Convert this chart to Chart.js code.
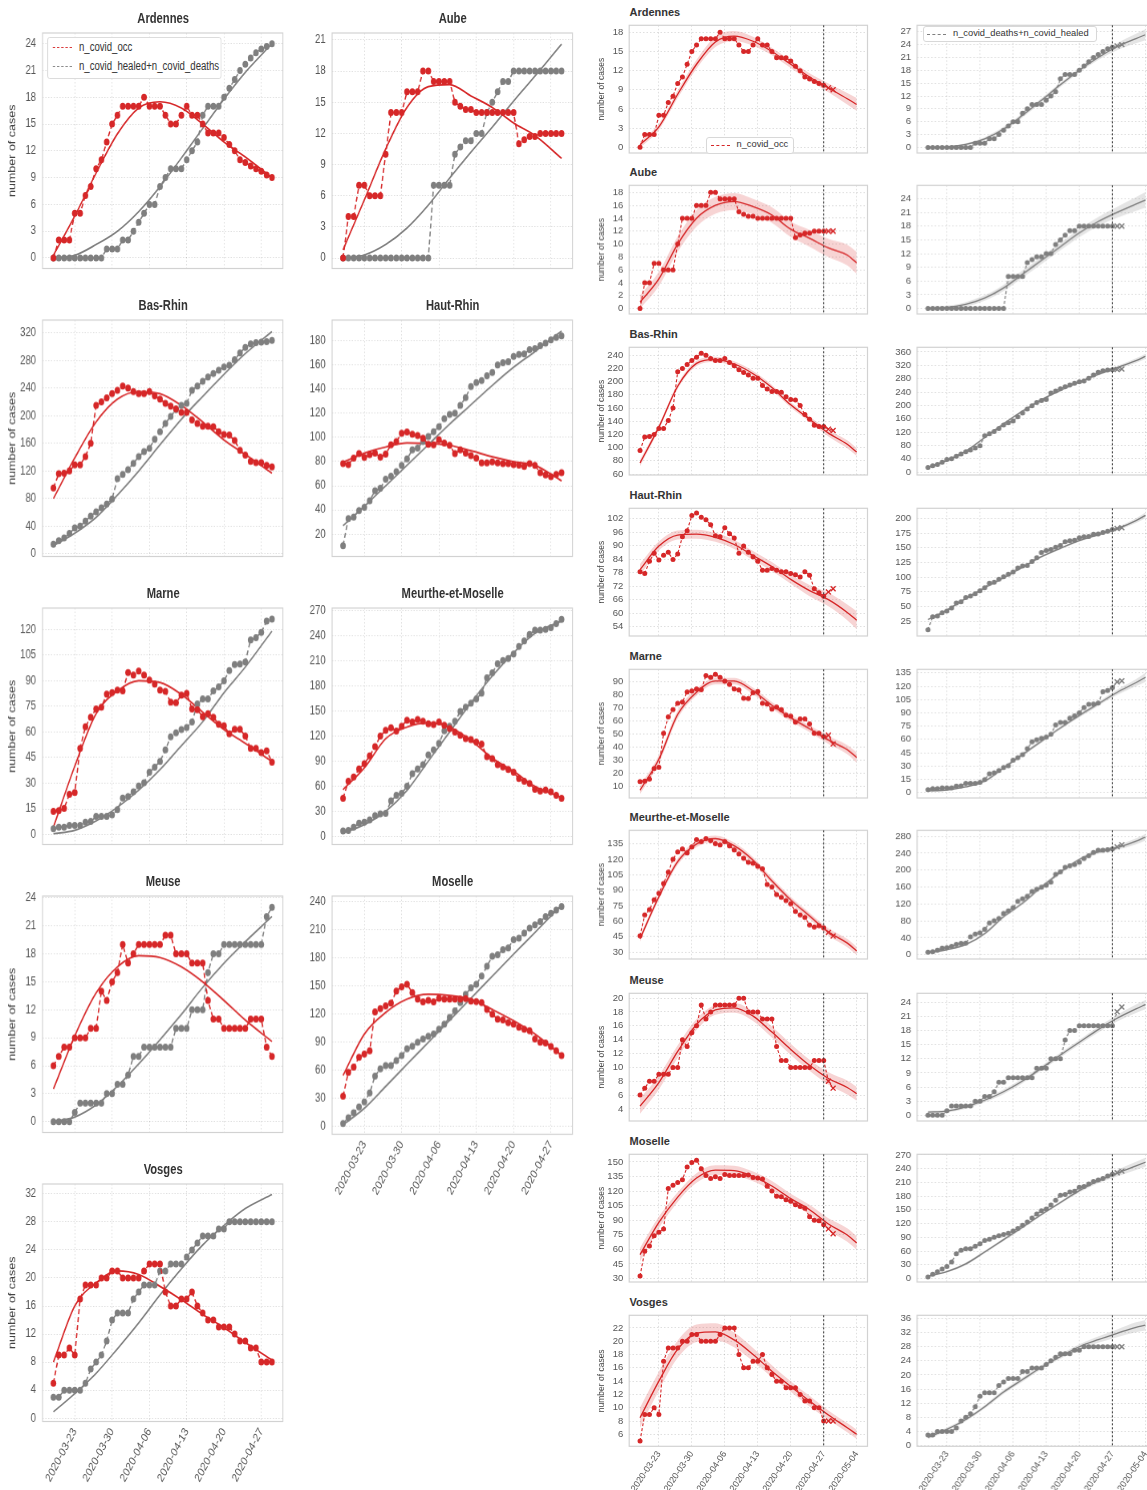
<!DOCTYPE html>
<html>
<head>
<meta charset="utf-8">
<script src="https://cdn.jsdelivr.net/npm/chart.js@4.4.1/dist/chart.umd.min.js"></script>
<style>
  body { margin: 0; width: 1147px; height: 1490px; overflow: hidden; background: #fff; position: relative; }
  .pn { position: absolute; }
  #leftFig { position: absolute; left: 0; top: 0; width: 725px; height: 1490px; transform: scaleX(0.8); transform-origin: 0 0; }
  .ttl-l { position: absolute; text-align: center; font: bold 14px 'Liberation Sans', sans-serif; color: #333; line-height: 18px; }
  .ttl-r { position: absolute; font: bold 11px 'Liberation Sans', sans-serif; color: #333; line-height: 13px; }
  .leg { position: absolute; background: #fff; border: 1px solid #d8d8d8; border-radius: 3px; z-index: 5; }
  .leg span { position: absolute; white-space: nowrap; color: #333; }
  .leg i { position: absolute; height: 0; }
</style>
</head>
<body>
<div id="leftFig"></div>
<script>
// ---- dates (day 0 = 2020-03-19) ----
const DATE_TICKS = [4, 11, 18, 25, 32, 39, 46];
const DATE_LABELS = ['2020-03-23', '2020-03-30', '2020-04-06', '2020-04-13', '2020-04-20', '2020-04-27', '2020-05-04'];
const SPLIT_DAY = 39;           // last training day on the right figure
const FIT_DAYS_L = [0, 4, 8, 12, 16, 20, 24, 28, 32, 36, 41];
const FIT_DAYS_R = [0, 4, 8, 12, 16, 20, 24, 28, 32, 36, 40, 44, 46];

// ---- observed series: n_covid_occ / n_covid_healed+n_covid_deaths ----
const occ_Ardennes = [0,2,2,2,5,5,7,8,10,11,13,15,16,17,17,17,17,18,17,17,17,16,15,15,16,17,16,16,15,14,14,14,13.5,12.7,12,11,10.7,10.3,10,9.7,9.3,9];
const rec_Ardennes = [0,0,0,0,0,0,0,0,0,0,1,1,1,2,2,3,4,5,6,6,8,9,10,10,10,11,12,13,16,17,17,17,18,19,20,21,21.7,22.4,23,23.4,23.7,24];
const occ_Aube = [0,4,4,7,7,6,6,6,10,14,14,14,16,16,16,18,18,17,17,17,17,15,14.6,14.3,14.3,14,14,14,14,14,14,14,14,11,11.4,11.7,11.7,12,12,12,12,12];
const rec_Aube = [0,0,0,0,0,0,0,0,0,0,0,0,0,0,0,0,0,7,7,7,7,10,10.7,11.3,11.3,12,12,14,15,16,17,17,18,18,18,18,18,18,18,18,18,18];
const occ_BasRhin = [95.6,116,117,120,129,129,141,160,215,220,226,232,237,243,240,235,232,232,235,229,224,218,214,210,205,205,194,189,185,185,184,177,173,172,164,150,143,134,132,132,128,126];
const rec_BasRhin = [14,19,23,29.5,37.6,40,47.5,54.7,61,66.6,72,79.4,109,115,122,131,141,148,153,166,177,189,199,209,215,218,237,243,250,256,261,266,270.6,273,281,291,299,304,306,306.5,307.5,309];
const occ_HautRhin = [78.4,77.6,83,86.6,83.6,85.7,87,83.8,86.3,94,96.6,103.4,104.5,102.6,101.5,99.3,94.4,94,98,95.3,93.4,86.6,89.8,87,85,83,79,79,79.8,79,78.4,78.4,77.6,77,76,78.4,76.8,70.8,69,67.5,69.4,70.8];
const rec_HautRhin = [10.5,32.8,34,39.6,42.3,47.7,55.9,58,65.4,68,71.6,76.8,82.2,89.8,91.2,96.6,100.7,104.8,108.8,115.6,119,120,126.5,133,142,145.5,147,151,153.7,160,161.8,162.6,167,168.6,169,172.7,173.5,176,178,180.8,182.7,184];
const occ_Marne = [13.6,14,15.4,23.6,24.6,50.5,63,68.7,73.5,74.5,82.2,83,84.5,84,94.7,93.3,95.6,93.3,90.4,88,84.5,83.7,77.4,77.2,81.6,82.6,73.5,73,69,70.7,68.7,64.5,63.6,59,61.6,61.6,57.6,50.5,50.5,48,49,42.4];
const rec_Marne = [3.5,4.4,4.4,5.4,5.4,5.4,7.3,7.7,10.6,10.6,10.6,11.5,14.6,21.3,22.3,25,28.4,30.3,36.5,39.4,42.8,49.5,57.2,59.5,61.4,62.6,65.9,76.4,79.3,79.3,84,86.4,89.9,96,99.5,99.8,101,113.9,115.2,118.3,124.8,126];
const occ_MM = [45.6,66,71,80.7,87,96.4,107.4,120,127,130,126,132,139,137,140,138,135,134,137,133,129,125,121,117,116,113,110.6,95.6,93,85.8,83,80,76.7,69.3,66,63.4,56.3,54.3,55.5,53.5,49,45.6];
const rec_MM = [6.3,7,11,15.7,17,19.7,24.8,26.8,27.5,42.5,49,51.6,60,75,80.7,85.8,97.6,103.5,111.4,126.3,132,138,149.5,154.7,159.4,164.5,171.6,190,196,206.6,210.5,213,218.4,227.5,234,242,247,247,248,250,255,260];
const occ_Meuse = [6,7,8,8,9,9,9,10,10,14,13,15,16,19,17,18,19,19,19,19,19,20,20,18,18,18,17,17,17,13,11,11,10,10,10,10,10,11,11,11,8,7];
const rec_Meuse = [0,0,0,0,1,2,2,2,2,2,3,3,4,4,5,7,7,8,8,8,8,8,8,10,10,10,12,12,12,16,18,18,19,19,19,19,19,19,19,19,22,23];
const occ_Moselle = [32.5,58,63.5,74,77.6,81,122.5,126,128.8,131.7,144.7,149.3,151.8,143,136,133,134.8,133,137,136,136,136,136,136.6,134,133.4,132.4,125,120,114.7,114,111,109.4,106,104,102.4,93.5,90,89.3,85.4,81,76];
const rec_Moselle = [3.5,9.5,14.8,21,26.5,36,54,61.8,65.3,65.3,70.6,76,83,85.8,90,93.5,96.4,98.8,104,109.4,116.5,123.5,132.4,141.2,148,151.8,160.6,171,181.8,183.5,188.8,190.6,199.4,201,206.5,211.8,215.3,218.8,224,227.6,231,234.7];
const occ_Vosges = [5,9,9,10,9,17,19,19,19,20,20,21,21,20,20,20,20,21,22,22,22,18,16,16,17,17,18,16,15,14,14,13,13,13,12,11,11,10,10,8,8,8];
const rec_Vosges = [3,3,4,4,4,4,5,7,8,9,11,14,15,15,15,17,18,19,19,19,21,21,22,22,22,23,24,25,26,26,26,27,27,28,28,28,28,28,28,28,28,28];

// ---- fitted curves, left figure (at FIT_DAYS_L) ----
const fitL_occ_Ardennes = [0.3,4.7,9.5,13.9,16.8,17.5,16.8,15,13,11.3,9];
const fitL_rec_Ardennes = [0,0.3,1.5,3,5.2,8,11.2,14.5,17.8,20.8,24];
const fitL_occ_Aube = [0.8,5.6,10.5,14.5,16.5,16.7,15.6,14.5,13,11.8,9.6];
const fitL_rec_Aube = [0,0.3,1.3,2.9,5.1,7.7,10.2,12.6,15.1,17.5,20.6];
const fitL_occ_BasRhin = [80,139,191,224,235,232,215,191,165,144,117];
const fitL_rec_BasRhin = [12,30,53,85,120,158,195,228,260,290,322];
const fitL_occ_HautRhin = [79.5,87,92,95.5,95,93.5,89,84,80,77,64];
const fitL_rec_HautRhin = [27,43,60,77,94,111,127,143,158,171,188];
const fitL_occ_Marne = [4.4,40,70.7,84,90,89,82,71.6,61.4,53.4,42.8];
const fitL_rec_Marne = [0.5,2.5,8,16,26,38,52,66,83,98,119];
const fitL_occ_MM = [56,82,117,131,135.8,131,115,93.7,78,60,46.4];
const fitL_rec_MM = [4,14,30,55,90,125,160,192,220,243,258];
const fitL_occ_Meuse = [3.5,9.2,13.8,16.6,17.8,17.6,16.6,15,13,10.9,8.6];
const fitL_rec_Meuse = [0,0.5,1.8,3.8,6.2,8.8,11.5,14.4,17,19.3,22];
const fitL_occ_Moselle = [54.7,98.8,121.8,136,141.2,140,136,125,113,98.8,76];
const fitL_rec_Moselle = [2,19.7,43,66.6,90,113.6,137,160.5,184,207,236.5];
const fitL_occ_Vosges = [8,16,19.3,21,20.5,18.8,16.9,14.8,12.9,10.8,8.3];
const fitL_rec_Vosges = [0.9,3.5,6.4,9.9,13.6,17.6,21.3,24.7,27.5,29.9,31.9];

// ---- fitted curves + band half widths, right figure (at FIT_DAYS_R) ----
const fitR_occ_Ardennes = [0.4,3.2,8.3,13,16.5,17.4,16.6,15,13,11,9.3,7.6,6.7];
const fitR_rec_Ardennes = [0,0.1,0.7,2,4.3,7.5,11,14.6,18,21,23.5,25.4,26.3];
const fitR_occ_Aube = [1,4.6,10,14,16,16.6,15.8,14.5,12.3,10.9,9.4,8.3,7.1];
const fitR_rec_Aube = [0,0.2,0.9,2.3,4.5,7.5,10.5,13.5,16.5,19,21,22.8,23.7];
const fitR_occ_BasRhin = [76.7,131,193,227.6,233.8,226.7,212,191,164.8,143,122,105,93.3];
const fitR_rec_BasRhin = [14,35,63,104,145,183,217,245,270,293,313,334,347];
const fitR_occ_HautRhin = [79.3,89.8,94.7,95.1,93.7,90.5,85.6,80.7,75,70,66,60.3,56.8];
const fitR_rec_HautRhin = [28,44,64,82,99,117,135,149,162,172,182,196,205];
const fitR_occ_Marne = [7,30.7,65,82,90.5,90.5,83,72,62.4,54,45.4,38,32];
const fitR_rec_Marne = [2,3,6.5,13,28,43,58,73,87,100,113,124,130];
const fitR_occ_MM = [43,83.6,117.6,134.7,140,133,119,99,80.5,65,49.5,38.7,31];
const fitR_rec_MM = [5,12,24,50,90,122,160,195,225,243,253,268,278];
const fitR_occ_Meuse = [4.4,7.8,12.3,16.2,18.3,18.6,17.4,15.1,12.6,10.3,8.4,7.1,6.2];
const fitR_rec_Meuse = [0.7,0.9,1.8,3.2,5,7.3,10,12.8,15.5,18.2,20.6,22.6,23.5];
const fitR_occ_Moselle = [54.5,87.7,113.8,133.4,141.5,141,135,125.2,112.2,100.8,86,74.7,66.5];
const fitR_rec_Moselle = [4.8,15,32,58,85,112,140,166,192,213,230,246,254];
const fitR_occ_Vosges = [8.5,14,18.8,21.2,21.4,20.2,18,15.5,13.2,11,8.9,7,6];
const fitR_rec_Vosges = [2.3,4.6,7.4,11,15.2,18.7,22.2,25.2,28,30,31.8,33.5,34.1];

const band_occ_Ardennes = [0.5,0.5,0.6,0.7,0.8,0.8,0.7,0.6,0.6,0.6,0.7,0.9,1];
const band_rec_Ardennes = [0.2,0.2,0.3,0.4,0.5,0.5,0.5,0.5,0.5,0.6,0.8,1.1,1.3];
const band_occ_Aube = [1,1.1,1.2,1.3,1.3,1.3,1.2,1.2,1.2,1.3,1.4,1.6,1.7];
const band_rec_Aube = [0.3,0.4,0.5,0.6,0.7,0.8,0.8,0.8,0.9,1,1.2,1.5,1.7];
const band_occ_BasRhin = [5,4,4,4,4,4,4,4,4,4,5,6,6];
const band_rec_BasRhin = [3,3,3,3,3,3,3,3,3,4,5,7,8];
const band_occ_HautRhin = [2.5,2,2,2,2,2,2,2,2,2.5,3,3.5,4];
const band_rec_HautRhin = [2,2,2,2,2,2,2,2,2,2,3,4,5];
const band_occ_Marne = [3,3,3,2.5,2.5,2.5,2.5,2.5,2.5,2.5,3,3.5,4];
const band_rec_Marne = [1,1,1,1.5,1.5,1.5,1.5,1.5,2,2,3,4,5];
const band_occ_MM = [3,3,3,3,3,3,3,3,3,3,3.5,4,4];
const band_rec_MM = [2,2,2,3,3,3,3,3,3,4,5,7,8];
const band_occ_Meuse = [1.1,1,0.9,0.8,0.7,0.7,0.7,0.8,0.8,0.8,0.9,1,1];
const band_rec_Meuse = [0.3,0.3,0.4,0.4,0.5,0.5,0.5,0.5,0.5,0.6,0.7,0.9,1];
const band_occ_Moselle = [7,6,5,5,5,5,5,5,5,5,6,7,7];
const band_rec_Moselle = [2,2,3,3,3,3,3,3,4,5,7,9,10];
const band_occ_Vosges = [1.5,1.4,1.3,1.3,1.3,1.1,1,0.9,0.8,0.8,0.7,0.7,0.7];
const band_rec_Vosges = [0.5,0.5,0.5,0.5,0.6,0.6,0.6,0.6,0.7,0.9,1.1,1.4,1.5];

// ---- y tick labels ----
const ytL_Ardennes = [0,3,6,9,12,15,18,21,24];
const ytL_Aube = [0,3,6,9,12,15,18,21];
const ytL_BasRhin = [0,40,80,120,160,200,240,280,320];
const ytL_HautRhin = [20,40,60,80,100,120,140,160,180];
const ytL_Marne = [0,15,30,45,60,75,90,105,120];
const ytL_MM = [0,30,60,90,120,150,180,210,240,270];
const ytL_Meuse = [0,3,6,9,12,15,18,21,24];
const ytL_Moselle = [0,30,60,90,120,150,180,210,240];
const ytL_Vosges = [0,4,8,12,16,20,24,28,32];

const ytR_occ_Ardennes = [0,3,6,9,12,15,18];
const ytR_rec_Ardennes = [0,3,6,9,12,15,18,21,24,27];
const ytR_occ_Aube = [0,2,4,6,8,10,12,14,16,18];
const ytR_rec_Aube = [0,3,6,9,12,15,18,21,24];
const ytR_occ_BasRhin = [60,80,100,120,140,160,180,200,220,240];
const ytR_rec_BasRhin = [0,40,80,120,160,200,240,280,320,360];
const ytR_occ_HautRhin = [54,60,66,72,78,84,90,96,102];
const ytR_rec_HautRhin = [25,50,75,100,125,150,175,200];
const ytR_occ_Marne = [10,20,30,40,50,60,70,80,90];
const ytR_rec_Marne = [0,15,30,45,60,75,90,105,120,135];
const ytR_occ_MM = [30,45,60,75,90,105,120,135];
const ytR_rec_MM = [0,40,80,120,160,200,240,280];
const ytR_occ_Meuse = [4,6,8,10,12,14,16,18,20];
const ytR_rec_Meuse = [0,3,6,9,12,15,18,21,24];
const ytR_occ_Moselle = [30,45,60,75,90,105,120,135,150];
const ytR_rec_Moselle = [0,30,60,90,120,150,180,210,240,270];
const ytR_occ_Vosges = [6,8,10,12,14,16,18,20,22];
const ytR_rec_Vosges = [0,4,8,12,16,20,24,28,32,36];

const DEPTS = ['Ardennes', 'Aube', 'Bas-Rhin', 'Haut-Rhin', 'Marne', 'Meurthe-et-Moselle', 'Meuse', 'Moselle', 'Vosges'];

// lookup tables built from the arrays above
const SER = {
  'Ardennes': [occ_Ardennes, rec_Ardennes, fitL_occ_Ardennes, fitL_rec_Ardennes, fitR_occ_Ardennes, fitR_rec_Ardennes, band_occ_Ardennes, band_rec_Ardennes, ytL_Ardennes, ytR_occ_Ardennes, ytR_rec_Ardennes],
  'Aube': [occ_Aube, rec_Aube, fitL_occ_Aube, fitL_rec_Aube, fitR_occ_Aube, fitR_rec_Aube, band_occ_Aube, band_rec_Aube, ytL_Aube, ytR_occ_Aube, ytR_rec_Aube],
  'Bas-Rhin': [occ_BasRhin, rec_BasRhin, fitL_occ_BasRhin, fitL_rec_BasRhin, fitR_occ_BasRhin, fitR_rec_BasRhin, band_occ_BasRhin, band_rec_BasRhin, ytL_BasRhin, ytR_occ_BasRhin, ytR_rec_BasRhin],
  'Haut-Rhin': [occ_HautRhin, rec_HautRhin, fitL_occ_HautRhin, fitL_rec_HautRhin, fitR_occ_HautRhin, fitR_rec_HautRhin, band_occ_HautRhin, band_rec_HautRhin, ytL_HautRhin, ytR_occ_HautRhin, ytR_rec_HautRhin],
  'Marne': [occ_Marne, rec_Marne, fitL_occ_Marne, fitL_rec_Marne, fitR_occ_Marne, fitR_rec_Marne, band_occ_Marne, band_rec_Marne, ytL_Marne, ytR_occ_Marne, ytR_rec_Marne],
  'Meurthe-et-Moselle': [occ_MM, rec_MM, fitL_occ_MM, fitL_rec_MM, fitR_occ_MM, fitR_rec_MM, band_occ_MM, band_rec_MM, ytL_MM, ytR_occ_MM, ytR_rec_MM],
  'Meuse': [occ_Meuse, rec_Meuse, fitL_occ_Meuse, fitL_rec_Meuse, fitR_occ_Meuse, fitR_rec_Meuse, band_occ_Meuse, band_rec_Meuse, ytL_Meuse, ytR_occ_Meuse, ytR_rec_Meuse],
  'Moselle': [occ_Moselle, rec_Moselle, fitL_occ_Moselle, fitL_rec_Moselle, fitR_occ_Moselle, fitR_rec_Moselle, band_occ_Moselle, band_rec_Moselle, ytL_Moselle, ytR_occ_Moselle, ytR_rec_Moselle],
  'Vosges': [occ_Vosges, rec_Vosges, fitL_occ_Vosges, fitL_rec_Vosges, fitR_occ_Vosges, fitR_rec_Vosges, band_occ_Vosges, band_rec_Vosges, ytL_Vosges, ytR_occ_Vosges, ytR_rec_Vosges]
};

// y ranges [min, max]: left figure, right occ, right rec
const YR_L = {'Ardennes':[-1.18,25.2],'Aube':[-1,21.66],'Bas-Rhin':[-3.8,338.6],'Haut-Rhin':[1.5,197.1],'Marne':[-5.8,132.5],'Meurthe-et-Moselle':[-9.8,273.5],'Meuse':[-1.16,24.2],'Moselle':[-8.1,246],'Vosges':[-0.47,33.4]};
const YR_RO = {'Ardennes':[-0.9,19.1],'Aube':[-0.84,19.1],'Bas-Rhin':[58.5,252],'Haut-Rhin':[49.8,106.6],'Marne':[1,99.5],'Meurthe-et-Moselle':[23.2,148],'Meuse':[2.26,20.7],'Moselle':[26.4,157.8],'Vosges':[4.2,23.9]};
const YR_RR = {'Ardennes':[-1.3,28.5],'Aube':[-1.2,26.9],'Bas-Rhin':[-8.5,374],'Haut-Rhin':[0,217],'Marne':[-6,139],'Meurthe-et-Moselle':[-10,294],'Meuse':[-1.2,25.9],'Moselle':[-7.6,271.4],'Vosges':[-0.2,36.9]};

// ---- styling ----
const RED = '#d62728', GREY = '#7f7f7f';
const RED_BAND = 'rgba(214,39,40,0.2)', GREY_BAND = 'rgba(127,127,127,0.2)';
const FONT = "'Liberation Sans','DejaVu Sans',sans-serif";
const TICK_COL = '#555';
const GRID_COL = 'rgba(0,0,0,0.16)';
const SQ = 0.8;   // horizontal squash of the left figure

const frame = {
  id: 'frame',
  beforeDatasetsDraw(chart) {
    const a = chart.chartArea, c = chart.ctx;
    c.save();
    c.strokeStyle = '#d2d2d2';
    c.lineWidth = 1.2;
    c.strokeRect(a.left, a.top, a.right - a.left, a.bottom - a.top);
    c.restore();
  }
};
const splitLine = {
  id: 'splitLine',
  afterDatasetsDraw(chart, args, opts) {
    if (opts.day == null) return;
    const x = chart.scales.x.getPixelForValue(opts.day), a = chart.chartArea, c = chart.ctx;
    c.save();
    c.strokeStyle = '#333';
    c.lineWidth = 1;
    c.setLineDash([2, 2]);
    c.beginPath(); c.moveTo(x, a.top); c.lineTo(x, a.bottom); c.stroke();
    c.restore();
  }
};
Chart.register(frame, splitLine);

const pts = arr => arr.map((v, i) => ({x: i, y: v}));
const fitPts = (days, arr) => days.map((d, i) => ({x: d, y: arr[i]}));

function panel(p) {
  const div = document.createElement('div');
  div.className = 'pn';
  div.style.left = (p.x - p.padL) + 'px';
  div.style.top = (p.y - p.padT) + 'px';
  div.style.width = (p.w + p.padL + p.padR) + 'px';
  div.style.height = (p.h + p.padT + p.padB) + 'px';
  const cv = document.createElement('canvas');
  div.appendChild(cv);
  p.parent.appendChild(div);
  return new Chart(cv, {
    type: 'line',
    data: {datasets: p.datasets},
    options: {
      responsive: true, maintainAspectRatio: false, animation: false,
      layout: {padding: {top: p.padT, right: p.padR, left: 0, bottom: 0}},
      plugins: {legend: {display: false}, tooltip: {enabled: false}, splitLine: {day: p.split}},
      scales: {
        x: {
          type: 'linear', min: p.xMin, max: p.xMax,
          grid: {color: GRID_COL, lineWidth: 0.8, drawTicks: false},
          border: {display: false, dash: [1.5, 2]},
          ticks: {
            display: p.showX, autoSkip: false, minRotation: p.rot, maxRotation: p.rot, padding: p.xPad,
            font: {family: FONT, size: p.xfs}, color: TICK_COL,
            callback: v => DATE_LABELS[DATE_TICKS.indexOf(v)]
          },
          afterBuildTicks: s => { s.ticks = p.xTicks.map(v => ({value: v})); },
          afterFit: s => { s.height = p.padB; s.paddingLeft = 0; s.paddingRight = 0; }
        },
        y: {
          min: p.yMin, max: p.yMax,
          grid: {color: GRID_COL, lineWidth: 0.8, drawTicks: false},
          border: {display: false, dash: [1.5, 2]},
          ticks: {autoSkip: false, padding: p.yPad, font: {family: FONT, size: p.yfs}, color: TICK_COL},
          title: {display: p.yTitle, text: 'number of cases', color: '#444', padding: {top: 2, bottom: 0},
                  font: {family: FONT, size: p.tfs}},
          afterBuildTicks: s => { s.ticks = p.yTicks.map(v => ({value: v})); },
          afterFit: s => { s.width = p.padL; s.paddingTop = 0; s.paddingBottom = 0; }
        }
      }
    }
  });
}

function addTitle(parent, cls, text, x, y, w) {
  const d = document.createElement('div');
  d.className = cls;
  d.textContent = text;
  d.style.left = x + 'px';
  d.style.top = y + 'px';
  if (w) d.style.width = w + 'px';
  parent.appendChild(d);
}

function dataSet(arr, color, o) {
  return {
    data: pts(arr), borderColor: color, backgroundColor: color, borderWidth: o.lw, borderDash: o.dash,
    pointStyle: c => (o.cross && c.dataIndex > SPLIT_DAY) ? 'crossRot' : 'circle',
    pointRadius: c => (o.cross && c.dataIndex > SPLIT_DAY) ? o.r + 1 : o.r,
    pointBorderWidth: c => (o.cross && c.dataIndex > SPLIT_DAY) ? 1.3 : 0,
    pointBackgroundColor: color, pointBorderColor: color, fill: false, tension: 0
  };
}
function fitSet(days, arr, color, lw) {
  return {data: fitPts(days, arr), borderColor: color, borderWidth: lw, pointRadius: 0,
          cubicInterpolationMode: 'monotone', fill: false};
}

// ---- left figure: 5 x 2 grid (drawn in an unsquashed frame, then scaled by SQ) ----
const leftFig = document.getElementById('leftFig');
const LCOLX = [42.5 / SQ, 332 / SQ], LW = 241.3 / SQ, LH = 239.5;
const LROWY = [30.7, 318.3, 606, 894.3, 1181.7];
DEPTS.forEach((name, k) => {
  const s = SER[name];
  const col = k % 2, row = Math.floor(k / 2);
  const showX = (name === 'Moselle' || name === 'Vosges');
  const x = LCOLX[col], y = LROWY[row];
  panel({
    parent: leftFig,
    x, y, w: LW, h: LH, padL: col === 0 ? 47 : 40, padR: 2, padT: 2, padB: showX ? 70 : 2,
    xMin: -2.05, xMax: 43.05, xTicks: DATE_TICKS.slice(0, 6), showX, rot: 57, xPad: 4,
    yMin: YR_L[name][0], yMax: YR_L[name][1], yTicks: s[8], yTitle: col === 0, yPad: 8,
    xfs: 12, yfs: 12, tfs: 12.5,
    datasets: [
      dataSet(s[0], RED, {lw: 1.6, dash: [5, 3], r: 3.5}),
      dataSet(s[1], GREY, {lw: 1.6, dash: [5, 3], r: 3.5}),
      fitSet(FIT_DAYS_L, s[2], RED, 1.7),
      fitSet(FIT_DAYS_L, s[3], GREY, 1.7)
    ]
  });
  addTitle(leftFig, 'ttl-l', name, x, y - 22, LW);
});

// ---- right figure: 9 x 2 grid (occ | healed+deaths) ----
const RCOLX = [628.8, 917.4], RW = 241.6, RH = 134.3;
const RROWY = [21.7, 182.3, 344, 505, 666.3, 827.3, 989.7, 1150.7, 1311.7];
DEPTS.forEach((name, k) => {
  const s = SER[name];
  const y = RROWY[k], last = k === DEPTS.length - 1;
  [0, 1].forEach(col => {
    const color = col === 0 ? RED : GREY, band = col === 0 ? RED_BAND : GREY_BAND;
    const fit = s[4 + col], bw = s[6 + col];
    const yr = col === 0 ? YR_RO[name] : YR_RR[name];
    panel({
      parent: document.body,
      x: RCOLX[col], y, w: RW, h: RH, padL: col === 0 ? 34.2 : 30, padR: 2, padT: 2, padB: last ? 55 : 2,
      xMin: -2.3, xMax: 48.3, xTicks: DATE_TICKS, showX: last, rot: 56, xPad: 3,
      yMin: yr[0], yMax: yr[1], yTicks: s[9 + col], yTitle: col === 0, yPad: 6,
      xfs: 9, yfs: 9.5, tfs: 8.5, split: SPLIT_DAY,
      datasets: [
        dataSet(s[col], color, {lw: 1.1, dash: [3, 2], r: 2.5, cross: true}),
        fitSet(FIT_DAYS_R, fit, color, 1.3),
        {data: fitPts(FIT_DAYS_R, fit.map((v, i) => v - bw[i])), borderWidth: 0, pointRadius: 0,
         cubicInterpolationMode: 'monotone', fill: false},
        {data: fitPts(FIT_DAYS_R, fit.map((v, i) => v + bw[i])), borderWidth: 0, pointRadius: 0,
         cubicInterpolationMode: 'monotone', fill: '-1', backgroundColor: band}
      ]
    });
  });
  addTitle(document.body, 'ttl-r', name, 629.5, y - 16);
});

// ---- legends ----
function legend(parent, x, y, w, h, items, fs, lw) {
  const d = document.createElement('div');
  d.className = 'leg';
  Object.assign(d.style, {left: x + 'px', top: y + 'px', width: w + 'px', height: h + 'px'});
  items.forEach(it => {
    const ln = document.createElement('i');
    Object.assign(ln.style, {left: it.lx + 'px', top: it.y + 'px', width: it.lw + 'px',
      borderTop: lw + 'px dashed ' + it.color});
    const t = document.createElement('span');
    t.textContent = it.text;
    Object.assign(t.style, {left: it.tx + 'px', top: (it.y - fs * 0.62) + 'px', font: fs + 'px ' + FONT});
    d.appendChild(ln); d.appendChild(t);
  });
  parent.appendChild(d);
}
legend(leftFig, 47 / SQ, 37, 173 / SQ, 40, [
  {text: 'n_covid_occ', color: RED, y: 9, lx: 6, lw: 24, tx: 39},
  {text: 'n_covid_healed+n_covid_deaths', color: GREY, y: 28, lx: 6, lw: 24, tx: 39}
], 12, 1.8);
legend(document.body, 705.5, 137, 86, 15, [
  {text: 'n_covid_occ', color: RED, y: 7, lx: 4, lw: 19, tx: 30}
], 9.3, 1.2);
legend(document.body, 923, 26, 172, 14, [
  {text: 'n_covid_deaths+n_covid_healed', color: GREY, y: 6.5, lx: 3, lw: 19, tx: 29}
], 9.3, 1.2);
</script>
</body>
</html>
